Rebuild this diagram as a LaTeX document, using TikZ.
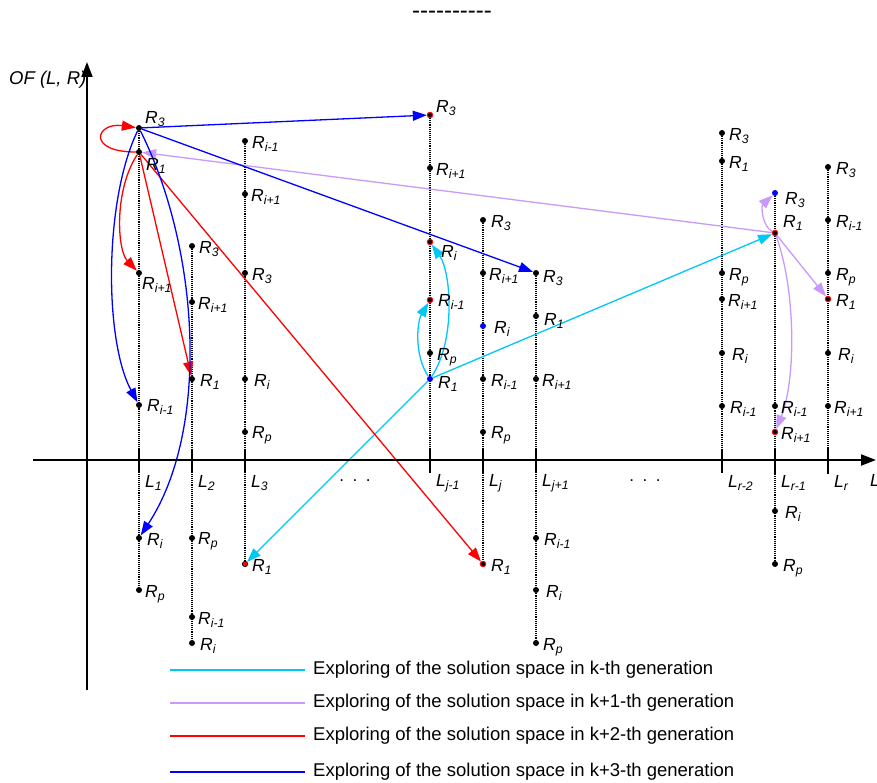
\documentclass[tikz,border=0pt]{standalone}
\usepackage{fontspec}
\setmainfont{Liberation Sans}
\usetikzlibrary{arrows.meta}
\definecolor{ccyan}{RGB}{0,200,245}
\definecolor{cpurp}{RGB}{200,155,250}
\definecolor{cred}{RGB}{255,0,0}
\definecolor{cblue}{RGB}{0,0,255}
\pgfdeclarelayer{bg}
\pgfsetlayers{bg,main}
\newcommand\mypt[7]{\node[#5] (#1) at (#2,#3) {}; \node[lab] (#1l) at ([xshift=#6pt,yshift=#7pt]#1.center) {#4};}
\begin{document}
\begin{tikzpicture}[x=1pt,y=-1pt,
  ptdot/.style={circle,fill=black,inner sep=0pt,minimum size=6pt},
  rdot/.style={circle,fill=black,draw=red,line width=0.9pt,inner sep=0pt,minimum size=5.5pt},
  rfdot/.style={circle,fill=red,draw=black,line width=0.6pt,inner sep=0pt,minimum size=5.5pt},
  bdot/.style={circle,fill=blue,inner sep=0pt,minimum size=6pt},
  lab/.style={anchor=west,inner sep=0pt,font=\fontsize{17.5}{20}\selectfont\itshape},
  axlab/.style={anchor=west,inner sep=0pt,font=\fontsize{17.5}{20}\selectfont\itshape},
  leg/.style={anchor=west,inner sep=0pt,font=\fontsize{18.5}{21}\selectfont},
  guide/.style={densely dotted,line width=1.1pt},
  tick/.style={line width=1.2pt},
  conn/.style={line width=1.3pt,-{Triangle[length=14pt,width=10pt]}},
  axis/.style={line width=2pt,-{Triangle[length=15pt,width=11pt]}},
  legline/.style={line width=2pt}]
\useasboundingbox (0,0) rectangle (877,783);
\begin{pgfonlayer}{bg}
\fill[white] (0,0) rectangle (877,783);
\end{pgfonlayer}

% title dashes
\node[anchor=base,inner sep=0pt,font=\fontsize{24}{24}\selectfont] (dash) at (452,19) {-{}-{}-{}-{}-{}-{}-{}-{}-{}-};

% axes
\coordinate (xs) at (33,460); \coordinate (xe) at (876,460);
\coordinate (ys) at (87,690); \coordinate (ye) at (87,62);
\draw[axis] (xs) -- (xe);
\draw[axis] (ys) -- (ye);
\node[axlab,font=\fontsize{18.5}{20}\selectfont\itshape] (ofl) at (9,80) {OF (L, R)};
\node[axlab] (lx) at (870,480) {L};

% L1
\mypt{a3}{139}{128}{R\textsubscript{3}}{ptdot}{6}{9}
\mypt{a1}{139}{152}{R\textsubscript{1}}{ptdot}{7}{-14}
\mypt{aip}{139}{273}{R\textsubscript{i+1}}{ptdot}{3}{-12}
\mypt{aim}{139}{405}{R\textsubscript{i-1}}{ptdot}{8}{-2}
\mypt{ai}{139}{538}{R\textsubscript{i}}{ptdot}{8}{-3}
\mypt{ap}{139}{590}{R\textsubscript{p}}{ptdot}{6}{-4}
% L2
\mypt{b3}{192}{246}{R\textsubscript{3}}{ptdot}{7}{-3}
\mypt{bip}{192}{302}{R\textsubscript{i+1}}{ptdot}{6}{-3}
\mypt{b1}{192}{379}{R\textsubscript{1}}{ptdot}{8}{-3}
\mypt{bp}{192}{538}{R\textsubscript{p}}{ptdot}{6}{-3}
\mypt{bim}{192}{617}{R\textsubscript{i-1}}{ptdot}{6}{-3}
\mypt{bi}{192}{643}{R\textsubscript{i}}{ptdot}{8}{-3}
% L3
\mypt{cim}{245}{141}{R\textsubscript{i-1}}{ptdot}{7}{-3}
\mypt{cip}{245}{194}{R\textsubscript{i+1}}{ptdot}{6}{-3}
\mypt{c3}{245}{273}{R\textsubscript{3}}{ptdot}{7}{-3}
\mypt{ci}{245}{379}{R\textsubscript{i}}{ptdot}{9}{-3}
\mypt{cp}{245}{432}{R\textsubscript{p}}{ptdot}{7}{-3}
\mypt{c1}{245}{564}{R\textsubscript{1}}{rfdot}{7}{-3}
% Lj-1
\mypt{d3}{430}{115}{R\textsubscript{3}}{rdot}{6}{7}
\mypt{dip}{430}{168}{R\textsubscript{i+1}}{ptdot}{6}{-3}
\mypt{di}{430}{242}{R\textsubscript{i}}{rdot}{11}{-11}
\mypt{dim}{430}{300}{R\textsubscript{i-1}}{rdot}{8}{-2}
\mypt{dp}{430}{353}{R\textsubscript{p}}{ptdot}{7}{-4}
\mypt{d1}{430}{379}{R\textsubscript{1}}{bdot}{8}{-5}
% Lj
\mypt{e3}{483}{220}{R\textsubscript{3}}{ptdot}{8}{-3}
\mypt{eip}{483}{273}{R\textsubscript{i+1}}{ptdot}{6}{-3}
\mypt{ei}{483}{326}{R\textsubscript{i}}{bdot}{11}{-3}
\mypt{eim}{483}{379}{R\textsubscript{i-1}}{ptdot}{8}{-3}
\mypt{ep}{483}{432}{R\textsubscript{p}}{ptdot}{8}{-3}
\mypt{e1}{483}{564}{R\textsubscript{1}}{rdot}{8}{-3}
% Lj+1
\mypt{f3}{536}{273}{R\textsubscript{3}}{ptdot}{7}{-5}
\mypt{f1}{536}{316}{R\textsubscript{1}}{ptdot}{8}{-5}
\mypt{fip}{536}{379}{R\textsubscript{i+1}}{ptdot}{6}{-3}
\mypt{fim}{536}{538}{R\textsubscript{i-1}}{ptdot}{8}{-3}
\mypt{fi}{536}{590}{R\textsubscript{i}}{ptdot}{10}{-3}
\mypt{fp}{536}{643}{R\textsubscript{p}}{ptdot}{7}{-4}
% Lr-2
\mypt{g3}{722}{133}{R\textsubscript{3}}{ptdot}{7}{-3}
\mypt{g1}{722}{161}{R\textsubscript{1}}{ptdot}{7}{-3}
\mypt{gp}{722}{273}{R\textsubscript{p}}{ptdot}{7}{-4}
\mypt{gip}{722}{299}{R\textsubscript{i+1}}{ptdot}{6}{-3}
\mypt{gi}{722}{353}{R\textsubscript{i}}{ptdot}{10}{-3}
\mypt{gim}{722}{406}{R\textsubscript{i-1}}{ptdot}{8}{-3}
% Lr-1
\mypt{h3}{775}{193}{R\textsubscript{3}}{bdot}{10}{-7}
\mypt{h1}{775}{233}{R\textsubscript{1}}{rdot}{8}{10}
\mypt{him}{775}{406}{R\textsubscript{i-1}}{ptdot}{6}{-3}
\mypt{hip}{775}{432}{R\textsubscript{i+1}}{rdot}{6}{-3}
\mypt{hi}{775}{511}{R\textsubscript{i}}{ptdot}{10}{-3}
\mypt{hp}{775}{564}{R\textsubscript{p}}{ptdot}{8}{-4}
% Lr
\mypt{k3}{828}{167}{R\textsubscript{3}}{ptdot}{8}{-3}
\mypt{kim}{828}{220}{R\textsubscript{i-1}}{ptdot}{8}{-3}
\mypt{kp}{828}{273}{R\textsubscript{p}}{ptdot}{8}{-4}
\mypt{k1}{828}{299}{R\textsubscript{1}}{rdot}{8}{-3}
\mypt{ki}{828}{353}{R\textsubscript{i}}{ptdot}{10}{-3}
\mypt{kip}{828}{406}{R\textsubscript{i+1}}{ptdot}{6}{-3}

% axis ticks and labels
\foreach \nm/\xx/\tx in {t1/139/1, t2/192/2, t3/245/3, t4/430/j-1, t5/483/j, t6/536/j+1, t7/722/r-2, t8/775/r-1, t9/828/r}{
  \coordinate (\nm a) at (\xx,449);
  \coordinate (\nm b) at (\xx,473);
  \draw[tick] (\nm a) -- (\nm b);
  \node[axlab] (\nm l) at (\xx+6,483) {L\textsubscript{\tx}};
}
\node[inner sep=0pt,font=\fontsize{17}{20}\selectfont] (dots1) at (355,481) {.\enspace.\enspace.};
\node[inner sep=0pt,font=\fontsize{17}{20}\selectfont] (dots2) at (645,481) {.\enspace.\enspace.};

\begin{pgfonlayer}{bg}
% dotted guides
\draw[guide] (a3) -- (ap);
\draw[guide] (b3) -- (bi);
\draw[guide] (cim) -- (c1);
\draw[guide] (d3) -- (t4b);
\draw[guide] (e3) -- (e1);
\draw[guide] (f3) -- (fp);
\draw[guide] (g3) -- (t7b);
\draw[guide] (h3) -- (hp);
\draw[guide] (k3) -- (t9b);

% k-th generation (cyan)
\draw[conn,ccyan] (d1) -- (c1);
\draw[conn,ccyan] (d1) -- (h1);
\draw[conn,ccyan] (d1) .. controls (414,355) and (417,322) .. (dim);
\draw[conn,ccyan] (d1) .. controls (456,340) and (451,272) .. (di);
% k+1 (purple)
\draw[conn,cpurp] (h1) -- (a1);
\draw[conn,cpurp] (h1) .. controls (762,226) and (761,206) .. (h3);
\draw[conn,cpurp] (h1) -- (k1);
\draw[conn,cpurp] (h1) .. controls (796,290) and (796,380) .. (hip);
% k+2 (red)
\draw[conn,cred] (a1) .. controls (86,152) and (96,122) .. (a3);
\draw[conn,cred] (a1) .. controls (114,190) and (117,250) .. (aip);
\draw[conn,cred] (a1) -- (b1);
\draw[conn,cred] (a1) -- (e1);
% k+3 (blue)
\draw[conn,cblue] (a3) -- (d3);
\draw[conn,cblue] (a3) -- (f3);
\draw[conn,cblue] (a3) .. controls (104,200) and (104,340) .. (aim);
\draw[conn,cblue] (a3) .. controls (200,250) and (210,430) .. (ai);
\end{pgfonlayer}

% legend
\coordinate (g1a) at (170,670); \coordinate (g1b) at (305,670);
\coordinate (g2a) at (170,703); \coordinate (g2b) at (305,703);
\coordinate (g3a) at (170,736); \coordinate (g3b) at (305,736);
\coordinate (g4a) at (170,772); \coordinate (g4b) at (305,772);
\draw[legline,ccyan] (g1a) -- (g1b);
\draw[legline,cpurp] (g2a) -- (g2b);
\draw[legline,cred] (g3a) -- (g3b);
\draw[legline,cblue] (g4a) -- (g4b);
\node[leg] (leg1) at (313,670) {Exploring of the solution space in k-th generation};
\node[leg] (leg2) at (313,703) {Exploring of the solution space in k+1-th generation};
\node[leg] (leg3) at (313,736) {Exploring of the solution space in k+2-th generation};
\node[leg] (leg4) at (313,772) {Exploring of the solution space in k+3-th generation};
\end{tikzpicture}
\end{document}
